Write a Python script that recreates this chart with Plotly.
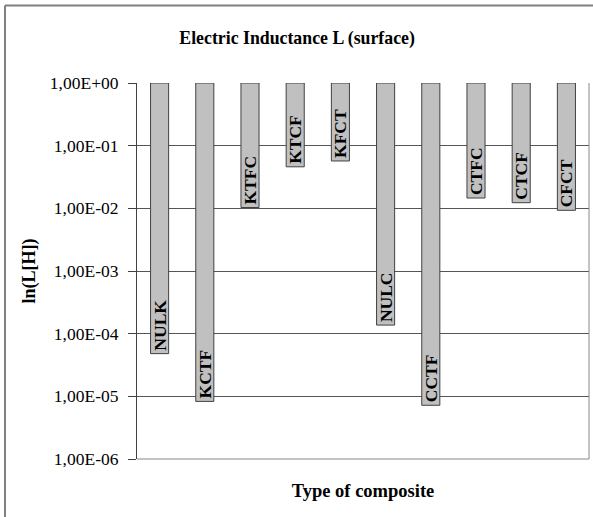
import plotly.graph_objects as go

categories = ["NULK", "KCTF", "KTFC", "KTCF", "KFCT", "NULC", "CCTF", "CTFC", "CTCF", "CFCT"]
inductance = [4.8e-5, 8.3e-6, 1.03e-2, 4.6e-2, 5.7e-2, 1.37e-4, 7.2e-6, 1.46e-2, 1.23e-2, 9.3e-3]
tick_values = [1e0, 1e-1, 1e-2, 1e-3, 1e-4, 1e-5, 1e-6]
tick_labels = ["1,00E+00", "1,00E-01", "1,00E-02", "1,00E-03", "1,00E-04", "1,00E-05", "1,00E-06"]

W, H = 593, 517
L, R, T, B = 137, 4, 83, 58
serif = "Liberation Serif"

fig = go.Figure()
fig.add_trace(go.Bar(
    x=categories,
    base=inductance,
    y=[1 - v for v in inductance],
    text=["<b>%s</b>" % c for c in categories],
    textposition="inside",
    insidetextanchor="start",
    textangle=-90,
    insidetextfont=dict(family=serif, size=17.5, color="black"),
    constraintext="none",
    marker=dict(color="#C0C0C0", line=dict(color="#404040", width=1)),
    width=0.4,
    hoverinfo="skip",
))

pw = W - L - R
ph = H - T - B
def px(x):
    return (x - L) / pw
def py(y):
    return (H - B - y) / ph

fig.update_layout(
    width=W, height=H,
    margin=dict(l=L, r=R, t=T, b=B),
    paper_bgcolor="white", plot_bgcolor="white",
    showlegend=False,
    font=dict(family=serif, color="black"),
    title=dict(text="<b>Electric Inductance L (surface)</b>", x=0.501, xanchor="center",
               y=1 - 38 / H, yanchor="middle", font=dict(size=17.8, family=serif)),
    xaxis=dict(showticklabels=False, ticks="", showgrid=False, zeroline=False,
               showline=False, range=[-0.5, 9.5],
               title=dict(text="<b>Type of composite</b>", font=dict(size=18.5, family=serif), standoff=25)),
    yaxis=dict(type="log", range=[-6, 0], tickvals=tick_values, ticktext=tick_labels,
               ticks="outside", ticklen=8, tickcolor="#404040", ticklabelstandoff=6,
               tickfont=dict(size=17.5, family=serif),
               showgrid=True, gridcolor="#555555", gridwidth=1,
               showline=True, linecolor="#404040", linewidth=1, zeroline=False,
               title=dict(text="<b>ln(L[H])</b>", font=dict(size=18, family=serif), standoff=9)),
    shapes=[
        dict(type="line", xref="paper", yref="paper", x0=1, x1=1, y0=0, y1=1,
             line=dict(color="#888888", width=1)),
        dict(type="line", xref="paper", yref="paper", x0=0, x1=1, y0=0, y1=0,
             line=dict(color="#888888", width=1)),
        dict(type="line", xref="paper", yref="paper", x0=px(5), x1=px(5), y0=py(H + 2), y1=py(5.5),
             line=dict(color="#808080", width=2)),
        dict(type="line", xref="paper", yref="paper", x0=px(5), x1=px(W + 2), y0=py(5.5), y1=py(5.5),
             line=dict(color="#808080", width=2)),
    ],
)

fig.write_html("out.html")
